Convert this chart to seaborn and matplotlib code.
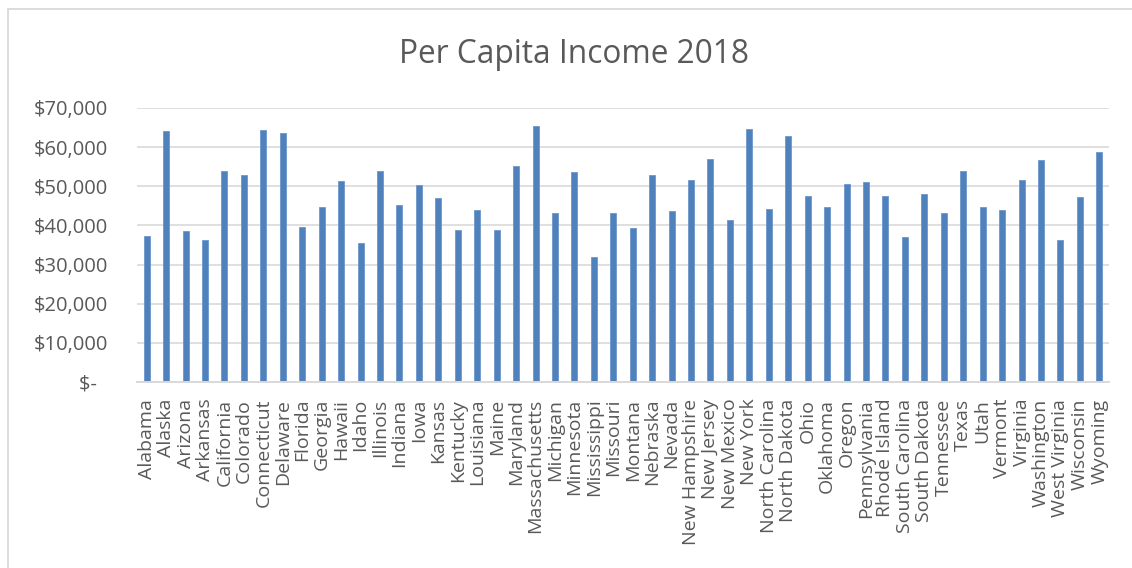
import matplotlib
matplotlib.use("Agg")
import matplotlib.pyplot as plt
from matplotlib.lines import Line2D
from matplotlib.ticker import FuncFormatter
import seaborn as sns

states = [
    "Alabama", "Alaska", "Arizona", "Arkansas", "California", "Colorado",
    "Connecticut", "Delaware", "Florida", "Georgia", "Hawaii", "Idaho",
    "Illinois", "Indiana", "Iowa", "Kansas", "Kentucky", "Louisiana", "Maine",
    "Maryland", "Massachusetts", "Michigan", "Minnesota", "Mississippi",
    "Missouri", "Montana", "Nebraska", "Nevada", "New Hampshire", "New Jersey",
    "New Mexico", "New York", "North Carolina", "North Dakota", "Ohio",
    "Oklahoma", "Oregon", "Pennsylvania", "Rhode Island", "South Carolina",
    "South Dakota", "Tennessee", "Texas", "Utah", "Vermont", "Virginia",
    "Washington", "West Virginia", "Wisconsin", "Wyoming",
]
income = [
    37300, 64000, 38600, 36300, 53950, 52800,
    64500, 63600, 39600, 44700, 51300, 35400,
    54000, 45200, 50300, 46900, 38900, 43900, 38800,
    55300, 65500, 43300, 53600, 31900,
    43200, 39300, 53000, 43800, 51700, 57000,
    41300, 64600, 44300, 62800, 47500,
    44600, 50600, 51000, 47600, 37000,
    48000, 43200, 53800, 44600, 43900, 51700,
    56800, 36300, 47200, 58800,
]
y_ticks = [0, 10000, 20000, 30000, 40000, 50000, 60000, 70000]

BAR = "#4F81BD"
TEXT = "#595959"
GRID = "#D9D9D9"

sns.set_theme(style="white")
plt.rcParams["font.family"] = ["Open Sans", "DejaVu Sans"]

W, H = 1132, 568
fig = plt.figure(figsize=(W / 100, H / 100), dpi=100)
ax = fig.add_axes([137 / W, (H - 382) / H, (1109 - 137) / W, (382 - 108) / H])

sns.barplot(x=states, y=income, color=BAR, saturation=1, width=0.31, ax=ax,
            edgecolor="#6d97cc", linewidth=0.6)

ax.set_ylim(0, 70000)
ax.set_xlim(-0.5, len(states) - 0.5)
ax.set_yticks(y_ticks)


def money(v, _):
    return "$-  " if v == 0 else f"${v:,.0f}"


ax.yaxis.set_major_formatter(FuncFormatter(money))
ax.yaxis.grid(True, color=GRID, linewidth=1.2)
ax.set_axisbelow(True)
for side in ("top", "right", "left"):
    ax.spines[side].set_visible(False)
ax.spines["bottom"].set_color(GRID)
ax.spines["bottom"].set_linewidth(1.4)

ax.tick_params(axis="y", length=0, pad=21, labelsize=14.5, labelcolor=TEXT)
ax.tick_params(axis="x", length=0, pad=12, labelsize=14, labelcolor=TEXT,
               labelrotation=90)
ax.set_xlabel("")
ax.set_ylabel("")

fig.text(574 / W, 1 - 63 / H, "Per Capita Income 2018", ha="center",
         va="baseline", fontsize=22.8, color=TEXT)

# chart-area frame (left and top edges)
fig.add_artist(Line2D([8 / W, 8 / W], [0, 1 - 9 / H], color=GRID, lw=1.3,
                      transform=fig.transFigure))
fig.add_artist(Line2D([8 / W, 1], [1 - 9 / H, 1 - 9 / H], color=GRID, lw=1.3,
                      transform=fig.transFigure))

fig.savefig("out.png", dpi=100, facecolor="white")
